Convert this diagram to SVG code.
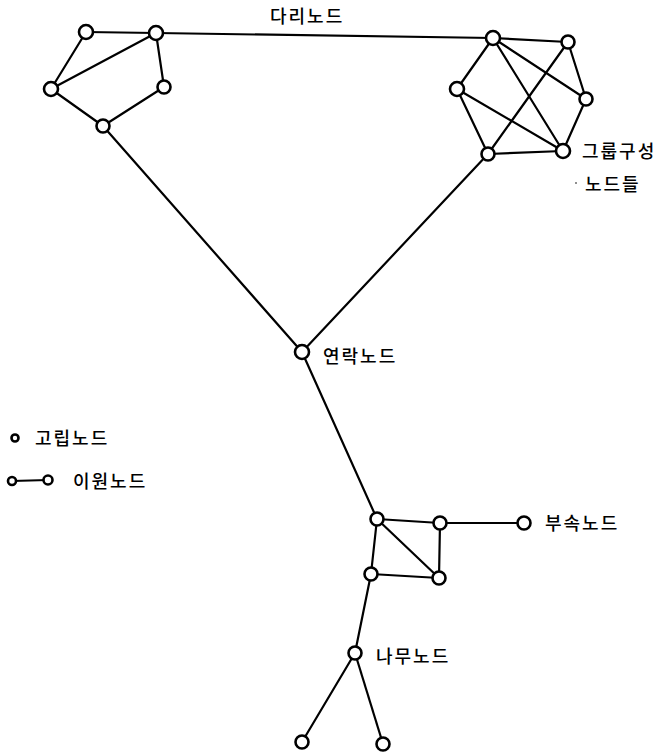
<svg xmlns="http://www.w3.org/2000/svg" width="662" height="752" viewBox="0 0 662 752">
<style>
.e{stroke:#000;stroke-width:2.2;fill:none;stroke-linecap:round}
.n{fill:#fff;stroke:#000;stroke-width:2.6}
.t{font-family:"Noto Sans CJK KR","Noto Sans",sans-serif;font-size:18px;font-weight:500;fill:#000;letter-spacing:2px}
</style>
<rect width="662" height="752" fill="#fff"/>
<g id="connectors">
<line class="e" x1="86" y1="32" x2="156" y2="33"/>
<line class="e" x1="86" y1="32" x2="51" y2="89"/>
<line class="e" x1="156" y1="33" x2="51" y2="89"/>
<line class="e" x1="156" y1="33" x2="164" y2="87"/>
<line class="e" x1="164" y1="87" x2="103" y2="126"/>
<line class="e" x1="51" y1="89" x2="103" y2="126"/>
<line class="e" x1="156" y1="33" x2="493" y2="38"/>
<line class="e" x1="103" y1="126" x2="302" y2="352"/>
<line class="e" x1="493" y1="38" x2="568" y2="42"/>
<line class="e" x1="493" y1="38" x2="457" y2="89"/>
<line class="e" x1="493" y1="38" x2="586" y2="99"/>
<line class="e" x1="493" y1="38" x2="563" y2="151"/>
<line class="e" x1="568" y1="42" x2="586" y2="99"/>
<line class="e" x1="568" y1="42" x2="488" y2="154"/>
<line class="e" x1="457" y1="89" x2="488" y2="154"/>
<line class="e" x1="457" y1="89" x2="563" y2="151"/>
<line class="e" x1="586" y1="99" x2="563" y2="151"/>
<line class="e" x1="488" y1="154" x2="563" y2="151"/>
<line class="e" x1="488" y1="154" x2="302" y2="352"/>
<line class="e" x1="302" y1="352" x2="377" y2="519"/>
<line class="e" x1="377" y1="519" x2="440" y2="523"/>
<line class="e" x1="440" y1="523" x2="524" y2="523"/>
<line class="e" x1="377" y1="519" x2="371" y2="574"/>
<line class="e" x1="377" y1="519" x2="439" y2="578"/>
<line class="e" x1="440" y1="523" x2="439" y2="578"/>
<line class="e" x1="371" y1="574" x2="439" y2="578"/>
<line class="e" x1="371" y1="574" x2="355" y2="653"/>
<line class="e" x1="355" y1="653" x2="302" y2="742"/>
<line class="e" x1="355" y1="653" x2="383" y2="744"/>
<line class="e" x1="12" y1="481" x2="48" y2="480"/>
</g>
<g id="node-a"><circle class="n" cx="86" cy="32" r="7"/></g>
<g id="node-b"><circle class="n" cx="156" cy="33" r="7"/></g>
<g id="node-c"><circle class="n" cx="51" cy="89" r="7"/></g>
<g id="node-d"><circle class="n" cx="164" cy="87" r="6.5"/></g>
<g id="node-e"><circle class="n" cx="103" cy="126" r="6.5"/></g>
<g id="node-f"><circle class="n" cx="493" cy="38" r="7"/></g>
<g id="node-g"><circle class="n" cx="568" cy="42" r="6.5"/></g>
<g id="node-h"><circle class="n" cx="457" cy="89" r="7"/></g>
<g id="node-i"><circle class="n" cx="586" cy="99" r="6.5"/></g>
<g id="node-j"><circle class="n" cx="488" cy="154" r="6.5"/></g>
<g id="node-k"><circle class="n" cx="563" cy="151" r="7"/></g>
<g id="node-liaison"><circle class="n" cx="302" cy="352" r="7"/></g>
<g id="node-l"><circle class="n" cx="377" cy="519" r="6.5"/></g>
<g id="node-m"><circle class="n" cx="440" cy="523" r="6.5"/></g>
<g id="node-n"><circle class="n" cx="524" cy="523" r="6.5"/></g>
<g id="node-o"><circle class="n" cx="371" cy="574" r="6.5"/></g>
<g id="node-p"><circle class="n" cx="439" cy="578" r="6.5"/></g>
<g id="node-q"><circle class="n" cx="355" cy="653" r="6.5"/></g>
<g id="node-r"><circle class="n" cx="302" cy="742" r="6.5"/></g>
<g id="node-s"><circle class="n" cx="383" cy="744" r="6.5"/></g>
<g id="legend-isolated"><circle class="n" cx="15" cy="438" r="3.5"/></g>
<g id="legend-pair"><circle class="n" cx="12" cy="481" r="4"/><circle class="n" cx="48" cy="480" r="4.5"/></g>
<g id="labels">
<text class="t" x="270" y="23">다리노드</text>
<text class="t" x="582" y="158">그룹구성</text>
<text class="t" x="585" y="191">노드들</text>
<circle cx="576" cy="183" r="0.8" fill="#000"/>
<text class="t" x="323" y="363">연락노드</text>
<text class="t" x="35" y="445">고립노드</text>
<text class="t" x="73" y="488">이원노드</text>
<text class="t" x="545" y="530">부속노드</text>
<text class="t" x="376" y="663">나무노드</text>
</g>
</svg>
